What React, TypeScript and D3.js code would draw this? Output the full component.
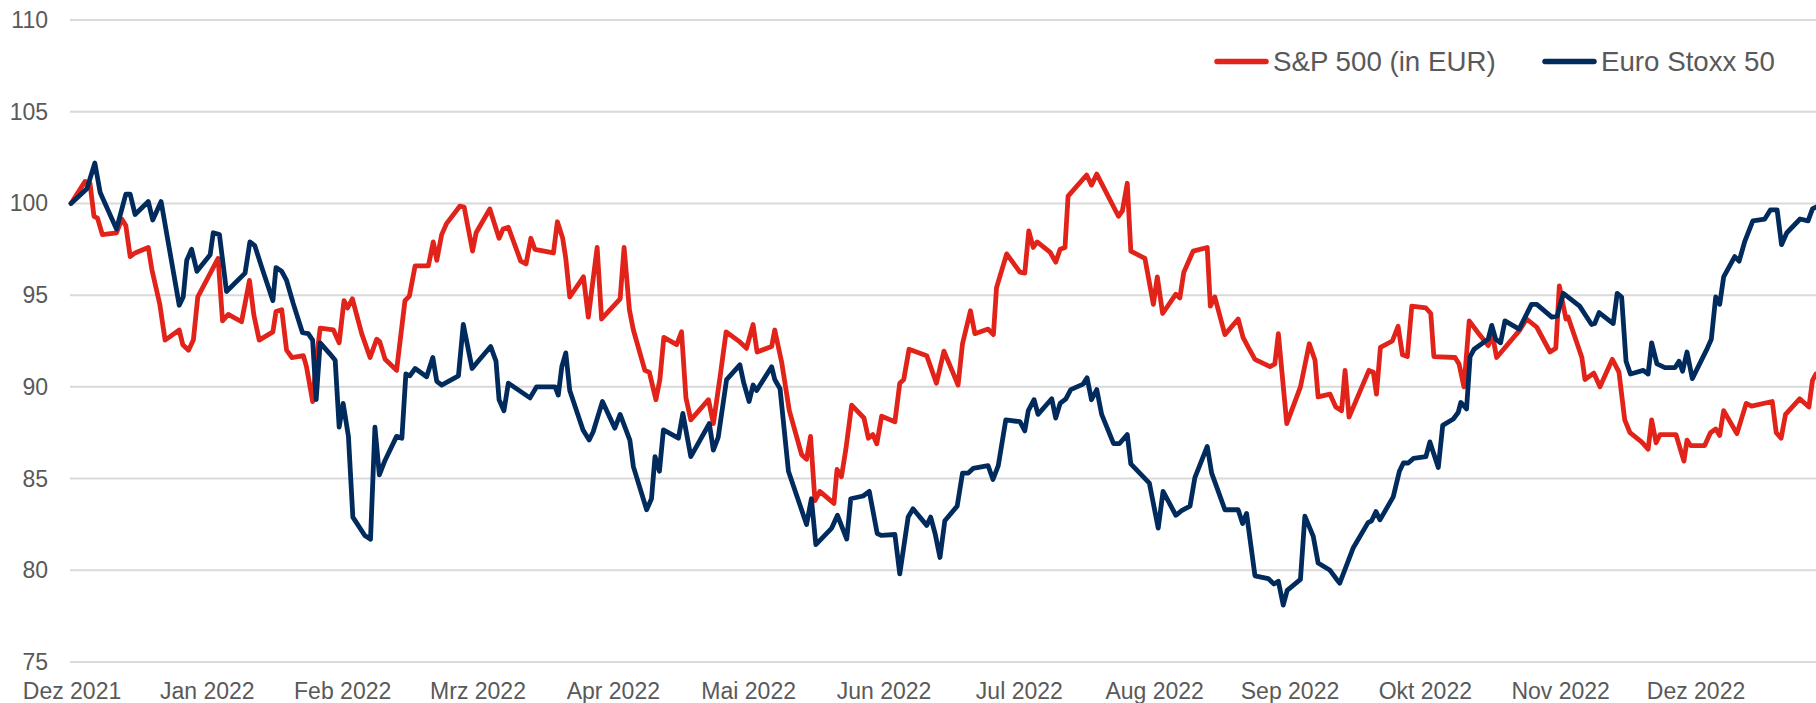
import React from 'react';
import * as d3 from 'd3';

// Index, 1 Dec 2021 = 100. Days are calendar days since 1 Dec 2021.
const spDay = [
  0, 3.2, 4.3, 5.2, 6.0, 7.1, 10.3, 11.5, 12.4, 13.4, 14.5, 17.5, 18.3, 20.1, 21.3, 24.5, 25.3, 26.6, 27.7, 28.7,
  33.3, 34.3, 35.6, 38.6, 40.4, 41.4, 42.6, 45.7, 46.4, 47.7, 48.8, 50.0, 52.6, 53.3, 54.7, 55.6, 56.4, 59.4, 60.7,
  61.8, 62.6, 63.7, 65.8, 67.7, 69.2, 69.9, 71.1, 73.7, 75.6, 76.6, 77.9, 80.9, 82.0, 82.8, 83.9, 85.0, 88.0, 89.0,
  90.9, 91.7, 94.8, 96.9, 97.8, 99.0, 101.8, 103.0, 104.1, 105.0, 109.2, 110.1, 111.3, 112.0, 112.9, 116.0, 117.1,
  119.1, 120.1, 124.3, 125.2, 126.4, 127.3, 129.9, 130.9, 132.4, 133.3, 134.2, 137.1, 138.2, 139.2, 140.3, 144.3,
  145.4, 146.9, 148.3, 151.4, 152.9, 154.4, 155.3, 158.6, 159.3, 160.9, 162.6, 165.4, 166.5, 167.4, 168.4, 169.5,
  172.7, 173.4, 174.4, 175.4, 176.7, 179.5, 180.5, 181.5, 182.4, 183.5, 186.5, 187.6, 188.5, 189.7, 193.7, 195.9,
  197.6, 200.8, 201.8, 203.6, 204.6, 207.6, 208.8, 209.5, 211.8, 214.8, 215.9, 216.8, 217.8, 218.7, 221.6, 222.9,
  223.9, 225.0, 225.7, 229.9, 231.0, 232.2, 237.1, 238.0, 239.1, 239.9, 243.1, 245.0, 245.9, 247.1, 250.1, 251.0,
  251.9, 254.0, 257.2, 257.9, 258.9, 261.2, 264.2, 265.3, 266.5, 268.0, 271.4, 272.5, 273.3, 275.2, 278.3, 280.3,
  281.6, 282.3, 285.0, 286.3, 287.6, 288.4, 289.3, 293.8, 294.8, 295.5, 296.4, 299.1, 300.4, 301.4, 302.5, 303.5,
  306.7, 307.8, 308.5, 313.3, 314.2, 315.3, 316.5, 318.5, 320.8, 321.8, 322.7, 327.8, 329.5, 331.8, 334.8, 336.1,
  336.9, 338.4, 338.9, 342.0, 342.7, 344.7, 346.1, 348.9, 350.4, 351.7, 352.9, 355.5, 357.0, 357.8, 358.8, 359.7,
  363.3, 365.1, 365.8, 366.6, 369.8, 371.1, 372.3, 373.2, 374.1, 377.1, 379.2, 380.4, 385.1, 386.0, 387.1, 388.1,
  391.3, 393.4, 394.2, 395.0,
];
const spVal = [
  100, 101.2, 101.1, 99.3, 99.2, 98.3, 98.4, 99.15, 98.8, 97.1, 97.3, 97.6, 96.4, 94.5, 92.55, 93.1, 92.3, 92.0, 92.55, 94.9,
  97.0, 93.6, 93.95, 93.55, 95.8, 93.9, 92.55, 93.0, 94.1, 94.2, 92.0, 91.6, 91.7, 91.1, 89.2, 91.6, 93.2, 93.1, 92.4,
  94.7, 94.3, 94.8, 92.9, 91.6, 92.6, 92.45, 91.5, 90.9, 94.7, 94.95, 96.6, 96.6, 97.9, 96.9, 98.3, 98.9, 99.85, 99.8,
  97.4, 98.4, 99.7, 98.1, 98.6, 98.7, 96.85, 96.7, 98.1, 97.5, 97.3, 99.0, 98.1, 97.0, 94.9, 96.0, 93.8,
  97.6, 93.7, 94.8, 97.6, 94.2, 93.1, 90.9, 90.8, 89.3, 90.4, 92.7, 92.3, 93.0, 89.4, 88.2, 89.3,
  88.0, 90.5, 93.0, 92.45, 92.1, 93.4, 91.9, 92.2, 93.1, 91.3, 88.7, 86.3, 86.05, 87.3, 83.8, 84.3,
  83.65, 85.5, 85.1, 86.6, 89.0, 88.3, 87.2, 87.4, 86.9, 88.4, 88.1, 90.2, 90.4, 92.05, 91.7, 90.2,
  91.95, 90.1, 92.35, 94.15, 92.9, 93.15, 92.85, 95.4, 97.25, 96.25, 96.2, 98.5, 97.6, 97.9, 97.35, 96.8,
  97.5, 97.6, 100.4, 101.55, 101.0, 101.6, 99.3, 99.6, 101.1, 97.4, 97.0, 94.5, 96.0, 94.0, 95.05, 94.85,
  96.25, 97.4, 97.6, 94.4, 94.9, 92.85, 93.7, 92.7, 92.15, 91.5, 91.1, 91.25, 92.9, 88.0, 90.0, 92.35,
  91.45, 89.45, 89.6, 88.9, 88.7, 90.9, 88.35, 90.9, 90.8, 89.6, 92.15, 92.5, 93.3, 91.75, 91.65, 94.4,
  94.3, 94.0, 91.65, 91.6, 91.25, 90.0, 93.6, 92.95, 92.25, 92.8, 91.6, 93.05, 93.7, 93.25, 91.9, 92.1,
  95.5, 93.7, 93.8, 91.6, 90.4, 90.75, 90.0, 91.5, 90.8, 88.2, 87.5, 87.0, 86.6, 88.2, 86.95, 87.4,
  87.4, 85.95, 87.1, 86.8, 86.8, 87.5, 87.7, 87.35, 88.7, 87.45, 89.1, 88.95, 89.2, 87.5, 87.2, 88.5,
  89.35, 88.9, 90.35, 90.7,
];

const euDay = [
  0, 3.6, 5.4, 6.6, 10.3, 12.4, 13.4, 14.5, 17.5, 18.5, 20.4, 21.7, 24.5, 25.4, 26.2, 27.3, 28.5, 31.5, 32.2, 33.6,
  35.2, 39.4, 40.5, 41.6, 43.2, 45.7, 46.4, 47.7, 48.8, 50.3, 52.4, 53.7, 54.7, 55.5, 56.4, 58.6, 59.8, 60.7, 61.6,
  62.8, 63.8, 66.5, 67.8, 68.8, 69.8, 71.1, 73.7, 74.9, 75.8, 76.7, 77.9, 80.5, 81.9, 82.8, 83.9, 87.7, 88.8, 90.8,
  92.0, 95.0, 96.2, 96.9, 98.0, 99.0, 103.9, 105.4, 109.6, 110.3, 111.1, 112.0, 112.9, 115.9, 117.3, 118.2, 120.3,
  123.1, 124.3, 126.5, 127.3, 130.3, 131.4, 132.2, 133.2, 134.1, 137.5, 138.5, 140.3, 144.5, 145.4, 146.5, 148.4,
  151.4, 152.3, 153.5, 154.4, 155.2, 158.6, 159.3, 160.5, 162.4, 166.5, 167.6, 168.6, 172.2, 173.5, 175.6, 176.5,
  179.3, 180.7, 182.5, 183.5, 186.5, 187.6, 189.5, 190.6, 193.7, 194.6, 195.6, 196.7, 197.8, 200.6, 201.8, 203.1,
  204.2, 207.6, 208.7, 209.9, 211.6, 214.8, 215.9, 216.7, 218.0, 218.9, 222.0, 222.9, 223.9, 225.2, 226.3, 229.1,
  230.0, 231.0, 232.2, 233.3, 236.0, 237.3, 239.1, 239.9, 244.1, 246.1, 247.2, 250.1, 251.4, 253.3, 254.4, 257.2,
  258.2, 259.7, 261.2, 264.2, 265.2, 266.1, 268.0, 271.0, 272.3, 273.3, 274.4, 275.3, 278.3, 279.3, 281.2, 282.3,
  285.0, 286.5, 287.2, 290.2, 293.6, 294.4, 295.4, 296.3, 299.3, 300.7, 301.6, 302.7, 303.9, 306.7, 307.6, 309.5,
  310.5, 312.9, 314.0, 314.6, 315.9, 316.7, 317.6, 320.8, 321.6, 322.5, 323.6, 324.6, 327.8, 330.6, 331.8, 335.2,
  336.4, 337.8, 341.5, 344.2, 344.9, 345.9, 349.1, 350.0, 351.0, 352.0, 353.0, 355.9, 357.0, 357.8, 359.0, 360.8,
  363.1, 364.0, 364.8, 365.8, 367.0, 370.2, 371.3, 372.3, 373.2, 374.1, 376.6, 377.6, 378.9, 380.7, 383.4, 384.7,
  386.2, 387.2, 388.4, 391.4, 393.2, 394.2, 395.0,
];
const euVal = [
  100, 100.8, 102.2, 100.6, 98.6, 100.5, 100.5, 99.4, 100.1, 99.1, 100.1, 98.3, 94.45, 94.9, 96.9, 97.5, 96.3, 97.2, 98.4, 98.3,
  95.2, 96.2, 97.9, 97.7, 96.5, 94.7, 96.5, 96.3, 95.8, 94.55, 92.95, 92.9, 92.55, 89.3, 92.4, 91.8, 91.45, 87.8, 89.1,
  87.3, 82.9, 81.9, 81.7, 87.8, 85.2, 86.0, 87.3, 87.2, 90.7, 90.6, 91.0, 90.55, 91.6, 90.3, 90.1, 90.6, 93.4, 91.0,
  91.35, 92.2, 91.4, 89.3, 88.7, 90.2, 89.4, 90.0, 90.0, 89.55, 91.1, 91.85, 89.8, 87.65, 87.1, 87.55, 89.2,
  87.75, 88.5, 87.1, 85.65, 83.3, 83.9, 86.2, 85.4, 87.65, 87.2, 88.55, 86.2, 88.0, 86.55, 87.25, 90.4,
  91.2, 90.2, 89.2, 90.1, 89.8, 91.1, 90.4, 89.9, 85.4, 82.5, 83.9, 81.4, 82.3, 83.0, 81.7, 83.9,
  84.05, 84.3, 82.0, 81.9, 81.95, 79.8, 82.9, 83.35, 82.45, 82.9, 82.0, 80.7, 82.7, 83.5, 85.3, 85.3,
  85.55, 85.7, 84.95, 85.7, 88.2, 88.1, 87.6, 88.7, 89.3, 88.5, 89.35, 88.3, 89.1, 89.35, 89.85, 90.15,
  90.5, 89.3, 89.85, 88.5, 86.9, 86.9, 87.4, 85.8, 84.75, 82.3, 84.3, 83.0, 83.25, 83.5, 85.05, 86.75,
  85.3, 84.3, 83.3, 83.3, 82.55, 83.1, 79.7, 79.55, 79.25, 79.4, 78.1, 78.9, 79.5, 82.95, 81.85, 80.4,
  80.0, 79.5, 79.3, 81.2, 82.6, 82.7, 83.2, 82.75, 84.0, 85.4, 85.85, 85.85, 86.1, 86.2, 87.0, 85.6,
  87.9, 88.25, 88.6, 89.15, 88.8, 91.65, 92.05, 92.6, 93.35, 92.6, 92.4, 93.6, 93.15, 94.5, 94.5, 93.8,
  93.85, 95.1, 94.4, 93.4, 93.45, 94.05, 93.45, 95.1, 94.9, 91.4, 90.7, 90.9, 90.7, 92.4, 91.25, 91.05,
  91.05, 91.4, 90.85, 91.9, 90.45, 92.0, 92.6, 94.9, 94.5, 96.0, 97.1, 96.85, 97.95, 99.05, 99.15, 99.65,
  99.65, 97.75, 98.4, 99.15, 99.05, 99.7, 99.8,
];

const monthLabels = [
  'Dez 2021', 'Jan 2022', 'Feb 2022', 'Mrz 2022', 'Apr 2022', 'Mai 2022', 'Jun 2022',
  'Jul 2022', 'Aug 2022', 'Sep 2022', 'Okt 2022', 'Nov 2022', 'Dez 2022',
];
const yTicks = [75, 80, 85, 90, 95, 100, 105, 110];
const seriesNames = ['S&P 500 (in EUR)', 'Euro Stoxx 50'];
const seriesColors = ['#e2231a', '#002b5c'];

const W = 1816;
const H = 703;
const START = new Date(2021, 11, 1);
const END = new Date(2022, 11, 31);
const FONT = '"Liberation Sans", Arial, sans-serif';
const TEXT = '#595959';

const toDate = (d: number) => new Date(START.getTime() + d * 864e5);

const App: React.FC = () => {
  const x = d3.scaleTime().domain([START, END]).range([71, W]);
  const y = d3.scaleLinear().domain([75, 110]).range([662, 20]);
  // category-style month labels, evenly spaced like the source chart
  const xLab = d3.scalePoint<string>().domain(monthLabels).range([72, 1696]);

  const line = d3.line<[number, number]>()
    .x(d => x(toDate(d[0])))
    .y(d => y(d[1]));

  const series = [
    d3.zip(spDay, spVal) as [number, number][],
    d3.zip(euDay, euVal) as [number, number][],
  ];

  const legendX = [1215, 1543];

  return (
    <svg width={W} height={H} style={{ position: 'absolute', left: 0, top: 0, background: '#fff' }}
      fontFamily={FONT}>
      {/* gridlines */}
      {yTicks.map(t => (
        <line key={t} x1={70} x2={W} y1={y(t)} y2={y(t)} stroke="#d9d9d9" strokeWidth={2} />
      ))}
      {yTicks.map(t => (
        <text key={'l' + t} x={48} y={y(t)} textAnchor="end" dominantBaseline="central"
          fontSize={23} fill={TEXT}>{t}</text>
      ))}
      {monthLabels.map(m => (
        <text key={m} x={xLab(m)} y={699} textAnchor="middle" fontSize={23} fill={TEXT}>
          {m}
        </text>
      ))}
      {series.map((s, i) => (
        <path key={'s' + i} d={line(s) ?? ''} fill="none" stroke={seriesColors[i]}
          strokeWidth={4.8} strokeLinejoin="round" strokeLinecap="round" />
      ))}
      {/* legend */}
      {seriesNames.map((n, i) => (
        <g key={'lg' + i} transform={`translate(${legendX[i]},61.5)`}>
          <line x1={2} x2={51} y1={0} y2={0} stroke={seriesColors[i]} strokeWidth={5.5} strokeLinecap="round" />
          <text x={58} y={0} dominantBaseline="central" fontSize={27.7} fill={TEXT}>{n}</text>
        </g>
      ))}
    </svg>
  );
};

export default App;
